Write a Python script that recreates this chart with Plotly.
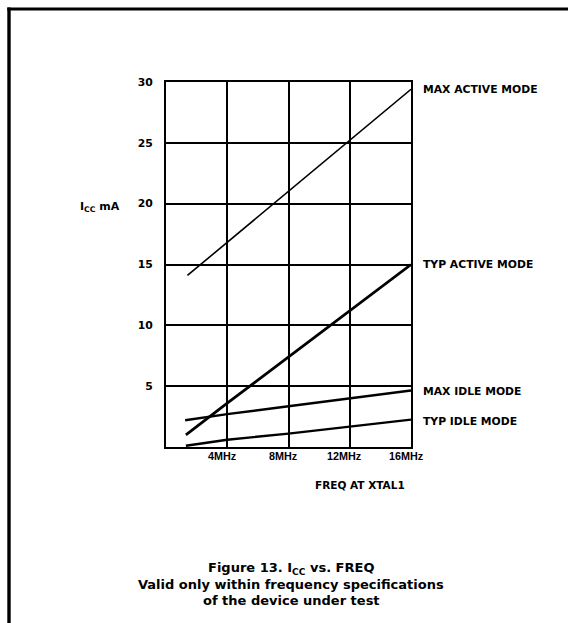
import plotly.graph_objects as go

# ---- data ----
freq_max_active = [1.4, 16.0]
icc_max_active = [14.1, 29.4]

freq_typ_active = [1.3, 4.0, 16.0]
icc_typ_active = [1.0, 3.6, 15.0]

freq_max_idle = [1.25, 4.0, 8.0, 12.0, 16.0]
icc_max_idle = [2.2, 2.7, 3.35, 4.0, 4.65]

freq_typ_idle = [1.3, 4.0, 8.0, 12.0, 16.0]
icc_typ_idle = [0.1, 0.6, 1.1, 1.7, 2.25]

series_names = ["MAX ACTIVE MODE", "TYP ACTIVE MODE", "MAX IDLE MODE", "TYP IDLE MODE"]
series_label_y = [29.4, 15.0, 4.6, 2.1]

x_tick_vals = [4, 8, 12, 16]
x_tick_text = ["4MHz", "8MHz", "12MHz", "16MHz"]
y_tick_vals = [5, 10, 15, 20, 25, 30]
y_tick_text = ["5", "10", "15", "20", "25", "30"]

NARROW = "Liberation Sans, Arial, Helvetica, sans-serif"
WIDE = "DejaVu Sans, Verdana, sans-serif"

fig = go.Figure()

series = [
    (freq_max_active, icc_max_active, 1.6),
    (freq_typ_active, icc_typ_active, 2.8),
    (freq_max_idle, icc_max_idle, 2.4),
    (freq_typ_idle, icc_typ_idle, 2.4),
]
for (xs, ys, w), name in zip(series, series_names):
    fig.add_trace(go.Scatter(x=xs, y=ys, mode="lines", name=name,
                             line=dict(color="black", width=w),
                             showlegend=False, hoverinfo="skip"))

annotations = []
for name, yv in zip(series_names, series_label_y):
    annotations.append(dict(x=16, y=yv, xref="x", yref="y", text=name,
                            showarrow=False, xanchor="left", yanchor="middle",
                            xshift=10, font=dict(family=WIDE, size=10.8, color="black", weight="bold")))
for xv, tt in zip(x_tick_vals, x_tick_text):
    annotations.append(dict(x=xv, y=0, xref="x", yref="y", text=tt, showarrow=False,
                            xanchor="center", yanchor="top", xshift=-5, yshift=-1,
                            font=dict(family=NARROW, size=10.8, color="black", weight="bold")))
annotations.append(dict(x=360, y=623 - 485, xref="paper", yref="paper", text="FREQ AT XTAL1",
                        showarrow=False, xanchor="center", yanchor="middle",
                        font=dict(family=WIDE, size=10.5, color="black", weight="bold")))
annotations.append(dict(x=100, y=623 - 207, xref="paper", yref="paper",
                        text="I<sub>CC</sub> mA", showarrow=False, xanchor="center", yanchor="middle",
                        font=dict(family=WIDE, size=11, color="black", weight="bold")))
caption = ["Figure 13. I<sub>CC</sub> vs. FREQ",
           "Valid only within frequency specifications",
           "of the device under test"]
for i, line in enumerate(caption):
    annotations.append(dict(x=291, y=623 - (568 + 16 * i), xref="paper", yref="paper",
                            text=line, showarrow=False, xanchor="center", yanchor="middle",
                            font=dict(family=WIDE, size=13, color="black", weight="bold")))

W, H = 578, 623
L, R, T, B = 166, 167, 82, 176
pw, ph = W - L - R, H - T - B
for a in annotations:
    if a["xref"] == "paper":
        a["x"] = (a["x"] - L) / pw
        a["y"] = (a["y"] - B) / ph


def px(xp):
    return (xp - L) / pw


def py(yp):
    return (H - yp - B) / ph


shapes = [
    # frame drawn as thin filled bars (top and left)
    dict(type="rect", xref="paper", yref="paper",
         x0=px(7.3), x1=px(W - 10), y0=py(10.6), y1=py(7.6),
         fillcolor="black", line=dict(width=0)),
    dict(type="rect", xref="paper", yref="paper",
         x0=px(7.3), x1=px(10.7), y0=py(H), y1=py(7.6),
         fillcolor="black", line=dict(width=0)),
]

fig.update_layout(
    width=W, height=H,
    margin=dict(l=L, r=R, t=T, b=B),
    paper_bgcolor="white", plot_bgcolor="white",
    font=dict(family=NARROW, color="black"),
    annotations=annotations, shapes=shapes,
    xaxis=dict(range=[0, 16], tickvals=x_tick_vals, showticklabels=False,
               showgrid=True, gridcolor="black", gridwidth=2,
               showline=True, linecolor="black", linewidth=2, mirror=True,
               zeroline=False, ticks=""),
    yaxis=dict(range=[0, 30], tickvals=y_tick_vals, ticktext=y_tick_text,
               showgrid=True, gridcolor="black", gridwidth=2,
               showline=True, linecolor="black", linewidth=2, mirror=True,
               zeroline=False, ticks="", ticklabelstandoff=9,
               tickfont=dict(family=WIDE, size=10.8, color="black", weight="bold")),
)

fig.write_html(
    "out.html", config={"displayModeBar": False},
    post_script=("document.documentElement.style.margin='0';"
                 "document.documentElement.style.overflow='hidden';"
                 "document.body.style.margin='0';"
                 "document.body.style.overflow='hidden';"))
